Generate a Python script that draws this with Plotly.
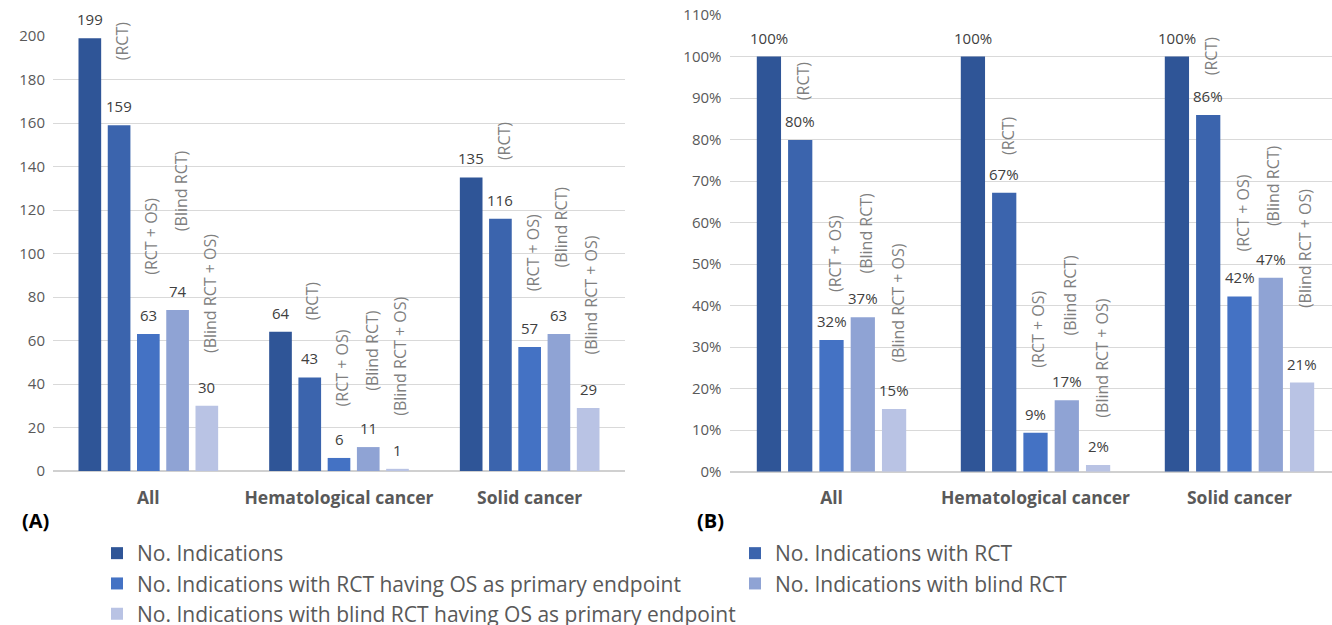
import plotly.graph_objects as go

# ---------------- data ----------------
categories = ["All", "Hematological cancer", "Solid cancer"]
series_names = [
    "No. Indications",
    "No. Indications with RCT",
    "No. Indications with RCT having OS as primary endpoint",
    "No. Indications with blind RCT",
    "No. Indications with blind RCT having OS as primary endpoint",
]
counts_indications = [199, 64, 135]
counts_rct = [159, 43, 116]
counts_rct_os = [63, 6, 57]
counts_blind_rct = [74, 11, 63]
counts_blind_rct_os = [30, 1, 29]

pct_indications = [100, 100, 100]
pct_rct = [79.9, 67.2, 85.9]
pct_rct_os = [31.7, 9.4, 42.2]
pct_blind_rct = [37.2, 17.2, 46.7]
pct_blind_rct_os = [15.1, 1.6, 21.48]

short_labels = ["(RCT)", "(RCT + OS)", "(Blind RCT)", "(Blind RCT + OS)"]
panel_labels = ["(A)", "(B)"]

ticks_a = [0, 20, 40, 60, 80, 100, 120, 140, 160, 180, 200]
ticks_b = [0, 10, 20, 30, 40, 50, 60, 70, 80, 90, 100, 110]

# ---------------- style ----------------
colors = ["#2F5597", "#3B64AD", "#4472C4", "#8FA3D4", "#B9C3E4"]
FONT = "'Open Sans', 'Noto Sans', sans-serif"
W, H = 1332, 625
BARGAP = 0.233
BARGROUPGAP = 0.225
VALUE_SHIFT = 7
# pixel gap between bar top and rotated short label (series x group)
gap_a = [[63, 55, 57], [57, 49, 54], [77, 54, 65], [51, 51, 51]]
gap_b = [[38, 36, 38], [46, 63, 43], [42, 63, 50], [44, 45, 72]]

counts = [counts_indications, counts_rct, counts_rct_os, counts_blind_rct, counts_blind_rct_os]
pcts = [pct_indications, pct_rct, pct_rct_os, pct_blind_rct, pct_blind_rct_os]

fig = go.Figure()
for j, name in enumerate(series_names):
    leg = "legend" if j in (0, 2, 4) else "legend2"
    fig.add_trace(go.Bar(
        x=categories, y=counts[j], name=name, marker_color=colors[j],
        marker_line_width=0, xaxis="x", yaxis="y", cliponaxis=False,
        legend=leg, legendgroup="g%d" % j, hoverinfo="skip",
    ))
for j, name in enumerate(series_names):
    fig.add_trace(go.Bar(
        x=categories, y=pcts[j], name=name, marker_color=colors[j],
        marker_line_width=0, xaxis="x2", yaxis="y2", cliponaxis=False,
        showlegend=False, legendgroup="g%d" % j, hoverinfo="skip",
    ))

annotations = []
w = (1 - BARGAP) / 5
# value labels above bars
for j in range(len(series_names)):
    for i in range(len(categories)):
        annotations.append(dict(
            x=i + (j - 2) * w, y=counts[j][i], xref="x", yref="y",
            text=str(counts[j][i]), showarrow=False, xanchor="center", yanchor="bottom",
            yshift=VALUE_SHIFT, font=dict(size=15, color="#404040", family=FONT)))
        annotations.append(dict(
            x=i + (j - 2) * w, y=pcts[j][i], xref="x2", yref="y2",
            text="%.0f%%" % pcts[j][i], showarrow=False, xanchor="center", yanchor="bottom",
            yshift=VALUE_SHIFT, font=dict(size=15, color="#404040", family=FONT)))
# rotated short labels
for s, lab in enumerate(short_labels):
    j = s + 1
    for i in range(len(categories)):
        for axx, axy, vals, gaps in (("x", "y", counts[j], gap_a), ("x2", "y2", pcts[j], gap_b)):
            annotations.append(dict(
                x=i + (j - 2) * w, y=vals[i], xref=axx, yref=axy,
                text=lab, textangle=-90, showarrow=False,
                xanchor="center", yanchor="bottom", yshift=gaps[s][i], xshift=3,
                font=dict(size=16, color="#7F7F7F", family=FONT),
            ))
annotations.append(dict(x=20 / W, y=1 - 520 / H, xref="paper", yref="paper", text="<b>%s</b>" % panel_labels[0],
                        showarrow=False, xanchor="left", yanchor="middle",
                        font=dict(size=20, color="#000000", family=FONT)))
annotations.append(dict(x=695 / W, y=1 - 520 / H, xref="paper", yref="paper", text="<b>%s</b>" % panel_labels[1],
                        showarrow=False, xanchor="left", yanchor="middle",
                        font=dict(size=20, color="#000000", family=FONT)))

axis_common = dict(showgrid=False, showline=False, ticks="", tickfont=dict(size=17.5, color="#595959", family=FONT),
                   ticklabelstandoff=14, fixedrange=True)
yaxis_common = dict(showgrid=True, gridcolor="#D9D9D9", gridwidth=1, zeroline=True, zerolinecolor="#D0D0D0",
                    zerolinewidth=1.5, showline=False, ticks="", tickfont=dict(size=15, color="#595959", family=FONT),
                    ticklabelstandoff=7, fixedrange=True)

LEGEND_FONT = dict(size=21, color="#595959", family=FONT)
fig.update_layout(
    width=W, height=H, margin=dict(l=0, r=0, t=0, b=0, autoexpand=False),
    paper_bgcolor="white", plot_bgcolor="white",
    barmode="group", bargap=BARGAP, bargroupgap=BARGROUPGAP,
    font=dict(family=FONT, color="#595959"),
    xaxis=dict(axis_common, domain=[53 / W, 625 / W], anchor="y", range=[-0.5, 2.5],
               tickvals=categories, ticktext=["<b>%s</b>" % c for c in categories]),
    yaxis=dict(yaxis_common, domain=[1 - 471 / H, 1 - 36 / H], anchor="x", range=[0, 200],
               tickvals=ticks_a, ticktext=[str(t) for t in ticks_a]),
    xaxis2=dict(axis_common, domain=[729.5 / W, 1.0], anchor="y2", range=[-0.5, (1332 - 831.5) / 204],
                tickvals=categories, ticktext=["<b>%s</b>" % c for c in categories]),
    yaxis2=dict(yaxis_common, domain=[1 - 471.7 / H, 1 - 15 / H], anchor="x2", range=[0, 110],
                tickvals=ticks_b, ticktext=["%d%%" % t for t in ticks_b]),
    legend=dict(x=97 / W, y=1 - 533 / H, xanchor="left", yanchor="top", orientation="v",
                font=LEGEND_FONT, tracegroupgap=0,
                bgcolor="rgba(0,0,0,0)", itemclick=False, itemdoubleclick=False),
    legend2=dict(x=735 / W, y=1 - 533 / H, xanchor="left", yanchor="top", orientation="v",
                 font=LEGEND_FONT, tracegroupgap=0,
                 bgcolor="rgba(0,0,0,0)", itemclick=False, itemdoubleclick=False),
    annotations=annotations,
    showlegend=True,
)

fig.write_html("out.html", config={"displayModeBar": False},
               post_script="document.body.style.margin='0px';")
